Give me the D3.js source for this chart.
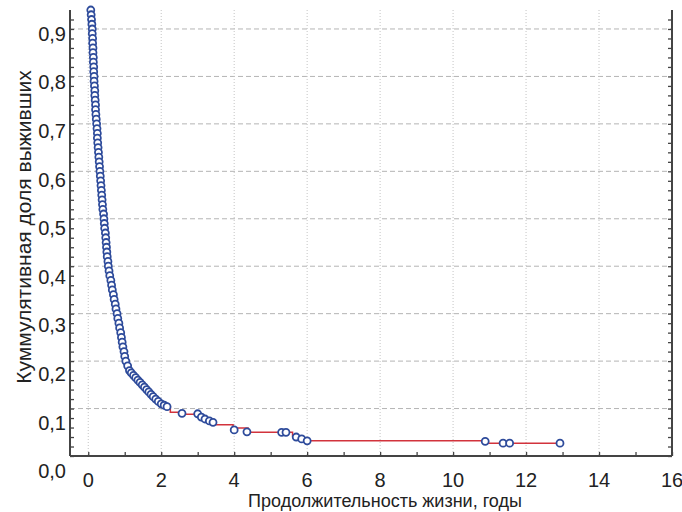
<!DOCTYPE html>
<html>
<head>
<meta charset="utf-8">
<script src="https://cdn.jsdelivr.net/npm/d3@7"></script>
<style>
  html, body { margin: 0; padding: 0; background: #fff; }
  svg { display: block; font-family: "Liberation Sans", Arial, sans-serif; }
</style>
</head>
<body>
<div id="chart"></div>
<script>

var denseSurvival = [0.94, 0.93, 0.92, 0.91, 0.90, 0.89, 0.88, 0.87, 0.86, 0.85,
	0.84, 0.83, 0.82, 0.81, 0.80, 0.79, 0.78, 0.77, 0.76, 0.75,
	0.74, 0.73, 0.72, 0.71, 0.70, 0.69, 0.68, 0.67, 0.66, 0.65,
	0.64, 0.63, 0.62, 0.61, 0.60, 0.59, 0.58, 0.57, 0.56, 0.55,
	0.54, 0.53, 0.52, 0.51, 0.50, 0.49, 0.48, 0.47, 0.46, 0.45,
	0.44, 0.43, 0.42, 0.41, 0.40, 0.39, 0.38, 0.37, 0.36, 0.35,
	0.34, 0.33, 0.32, 0.31, 0.30, 0.29, 0.28, 0.27, 0.26, 0.25,
	0.24, 0.23, 0.22, 0.21, 0.20, 0.19, 0.18, 0.175, 0.17, 0.165,
	0.16, 0.155, 0.15, 0.145, 0.14, 0.135, 0.13, 0.125, 0.12, 0.115,
	0.11, 0.107, 0.104];
var denseTimes = [0.07, 0.08, 0.09, 0.10, 0.11, 0.11, 0.12, 0.12, 0.13, 0.13,
	0.14, 0.14, 0.15, 0.15, 0.16, 0.16, 0.17, 0.18, 0.18, 0.19,
	0.20, 0.20, 0.21, 0.22, 0.23, 0.24, 0.25, 0.25, 0.26, 0.27,
	0.28, 0.29, 0.30, 0.31, 0.32, 0.33, 0.34, 0.35, 0.36, 0.37,
	0.38, 0.39, 0.40, 0.42, 0.43, 0.44, 0.45, 0.47, 0.48, 0.49,
	0.50, 0.51, 0.52, 0.54, 0.55, 0.57, 0.59, 0.62, 0.64, 0.66,
	0.69, 0.71, 0.74, 0.76, 0.79, 0.81, 0.84, 0.86, 0.89, 0.91,
	0.93, 0.95, 0.98, 1.00, 1.03, 1.08, 1.13, 1.18, 1.24, 1.30,
	1.36, 1.42, 1.48, 1.54, 1.60, 1.66, 1.72, 1.78, 1.85, 1.92,
	2.00, 2.08, 2.16];

// steps of the tail (red line)
var tailTimes    = [2.25, 2.60, 3.05, 3.20, 3.35, 3.50, 3.97, 4.38, 5.60, 5.85, 6.00, 10.90, 12.93];
var tailSurvival = [0.092, 0.088, 0.080, 0.076, 0.072, 0.066, 0.059, 0.050, 0.042, 0.036, 0.032, 0.027, 0.027];

// markers in the tail
var markTimes    = [2.57, 3.00, 3.10, 3.20, 3.32, 3.42, 4.00, 4.35, 5.30, 5.42, 5.70, 5.85, 6.00, 10.88, 11.37, 11.55, 12.93];
var markSurvival = [0.090, 0.089, 0.082, 0.078, 0.074, 0.071, 0.055, 0.051, 0.050, 0.050, 0.040, 0.036, 0.032, 0.031, 0.027, 0.027, 0.027];

var xTicks = [0, 2, 4, 6, 8, 10, 12, 14, 16];
var yTicks = [0.0, 0.1, 0.2, 0.3, 0.4, 0.5, 0.6, 0.7, 0.8, 0.9];

var xTitle = "Продолжительность жизни, годы";
var yTitle = "Куммулятивная доля выживших";

var W = 682, H = 512;
var margin = {top: 10, right: 10, bottom: 56, left: 70};
var width = W - margin.left - margin.right;
var height = H - margin.top - margin.bottom;

var blue = "#2e4b9b", red = "#d2333c", axisColor = "#444";

var svg = d3.select("#chart").append("svg")
	.attr("width", W)
	.attr("height", H);

var g = svg.append("g")
	.attr("transform", "translate(" + margin.left + "," + margin.top + ")");

var x = d3.scaleLinear().domain([-0.5, 16]).range([0, width]);
var y = d3.scaleLinear().domain([0, 0.94]).range([height, 0]);
// the tick labels in the original sit on a slightly wider spacing than the grid
var yLabel = d3.scaleLinear().domain([0, 0.9]).range([471, 33.5]);

// grid
g.selectAll(".hgrid")
	.data(yTicks.filter(d => d > 0))
	.enter()
		.append("line")
		.attr("x1", 0).attr("x2", width)
		.attr("y1", d => y(d)).attr("y2", d => y(d))
		.attr("stroke", "#b4b4b4")
		.attr("stroke-width", 1)
		.attr("stroke-dasharray", "5,3");

g.selectAll(".vgrid")
	.data(xTicks.filter(d => d < 16))
	.enter()
		.append("line")
		.attr("x1", d => x(d)).attr("x2", d => x(d))
		.attr("y1", 0).attr("y2", height)
		.attr("stroke", "#c4c4c4")
		.attr("stroke-width", 1)
		.attr("stroke-dasharray", "1,2");

// axes frame
var left = g.append("g").call(d3.axisRight(y).tickValues(d3.range(0, 0.94, 0.02)).tickSize(4).tickFormat(""));
var right = g.append("g").attr("transform", "translate(" + width + ",0)")
	.call(d3.axisLeft(y).tickValues(d3.range(0, 0.94, 0.02)).tickSize(4).tickFormat(""));
var bottom = g.append("g").attr("transform", "translate(0," + height + ")")
	.call(d3.axisTop(x).tickValues(d3.range(0, 17, 1)).tickSize(4).tickFormat(""));

[left, right, bottom].forEach(a => {
	a.select(".domain").attr("stroke", axisColor).attr("stroke-width", 2);
	a.selectAll(".tick line").attr("stroke", axisColor).attr("stroke-width", 1.3);
});
bottom.select(".domain").attr("d", "M0,0H" + width);
left.select(".domain").attr("d", "M0,0V" + height);
right.select(".domain").attr("d", "M0,0V" + height);

// tick labels
svg.selectAll(".xlab")
	.data(xTicks)
	.enter()
		.append("text")
		.attr("x", d => margin.left + x(d))
		.attr("y", 487)
		.attr("text-anchor", "middle")
		.attr("font-size", 20)
		.attr("fill", "#222")
		.text(d => d);

svg.selectAll(".ylab")
	.data(yTicks)
	.enter()
		.append("text")
		.attr("x", 66)
		.attr("y", d => yLabel(d))
		.attr("dy", "0.36em")
		.attr("text-anchor", "end")
		.attr("font-size", 20)
		.attr("fill", "#222")
		.text(d => d3.format(".1f")(d).replace(".", ","));

svg.append("text")
	.attr("x", 385)
	.attr("y", 507)
	.attr("text-anchor", "middle")
	.attr("font-size", 18)
	.attr("fill", "#222")
	.text(xTitle);

svg.append("text")
	.attr("transform", "translate(31,227) rotate(-90)")
	.attr("text-anchor", "middle")
	.attr("font-size", 21)
	.attr("fill", "#222")
	.text(yTitle);

// curve
var curve = denseTimes.map((t, i) => [t, denseSurvival[i]])
	.concat(tailTimes.map((t, i) => [t, tailSurvival[i]]));
var marks = denseTimes.map((t, i) => [t, denseSurvival[i]])
	.concat(markTimes.map((t, i) => [t, markSurvival[i]]));

var line = d3.line()
	.x(d => x(d[0]))
	.y(d => y(d[1]))
	.curve(d3.curveStepAfter);

g.append("path")
	.attr("d", line(curve))
	.attr("fill", "none")
	.attr("stroke", red)
	.attr("stroke-width", 1.5);

g.selectAll(".mark")
	.data(marks)
	.enter()
		.append("circle")
		.attr("cx", d => x(d[0]))
		.attr("cy", d => y(d[1]))
		.attr("r", 3.5)
		.attr("fill", "#fff")
		.attr("stroke", blue)
		.attr("stroke-width", 1.8);

</script>
</body>
</html>
